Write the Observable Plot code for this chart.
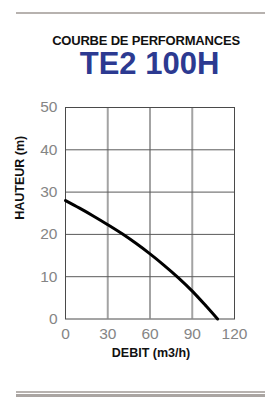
<!DOCTYPE html>
<html>
<head>
<meta charset="utf-8">
<script src="https://cdn.jsdelivr.net/npm/d3@7"></script>
<script src="https://cdn.jsdelivr.net/npm/@observablehq/plot@0.6"></script>
<style>
  html, body { margin: 0; padding: 0; background: #fff; }
  #wrap { position: relative; width: 265px; height: 397px; overflow: hidden; font-family: "Liberation Sans", Arial, sans-serif; }
  .bar { position: absolute; left: 16px; right: 0; background: #b7b2af; }
  #sup { position: absolute; left: 0; width: 292px; top: 33px; text-align: center; font-weight: bold; font-size: 13px; color: #111; letter-spacing: -0.2px; }
  #title { position: absolute; left: 0; width: 299px; top: 46px; text-align: center; font-weight: bold; font-size: 31px; color: #2c3a91; }
  #chart { position: absolute; left: 0; top: 0; }
</style>
</head>
<body>
<div id="wrap">
  <div class="bar" style="top:12px;height:2px"></div>
  <div id="sup">COURBE DE PERFORMANCES</div>
  <div id="title">TE2 100H</div>
  <div id="chart"></div>
  <div class="bar" style="top:391px;height:2px"></div>
  <div class="bar" style="top:394px;height:3px;background:#aaa5a2"></div>
</div>
<script>
const debit   = [0, 10, 20, 30, 40, 50, 60, 70, 80, 90, 100, 108];
const hauteur = [28, 26.2, 24.3, 22.3, 20.2, 17.9, 15.4, 12.7, 9.8, 6.6, 3.0, 0];
const xTicks = [0, 30, 60, 90, 120];
const yTicks = [0, 10, 20, 30, 40, 50];
const xLabel = "DEBIT (m3/h)";
const yLabel = "HAUTEUR (m)";

const pts = debit.map((d, i) => ({x: d, y: hauteur[i]}));

const chart = Plot.plot({
  width: 265,
  height: 397,
  marginTop: 107,
  marginBottom: 78.5,
  marginLeft: 65,
  marginRight: 31,
  style: {fontFamily: "Liberation Sans, Arial, sans-serif", background: "transparent"},
  x: {domain: [0, 120], ticks: xTicks},
  y: {domain: [0, 50], ticks: yTicks},
  marks: [
    Plot.ruleX(xTicks.slice(1, -1), {stroke: "#a3a3a3", strokeWidth: 2}),
    Plot.ruleY(yTicks.slice(1, -1), {stroke: "#5a5a5a", strokeWidth: 1}),
    Plot.frame({stroke: "#4a4a4a", strokeWidth: 1}),
    Plot.axisX({ticks: xTicks, tickSize: 0, tickPadding: 9, fontSize: 15.5, fill: "#858585", label: null}),
    Plot.axisY({ticks: yTicks, tickSize: 0, tickPadding: 8, fontSize: 15.5, fill: "#858585", label: null}),
    Plot.line(pts, {x: "x", y: "y", stroke: "#000", strokeWidth: 3, curve: "monotone-x"}),
    Plot.text([xLabel], {frameAnchor: "bottom", dy: 38, fontSize: 12.5, fontWeight: "bold", fill: "#111", dx: 1}),
    Plot.text([yLabel], {frameAnchor: "left", dx: -45.5, dy: 6.5, rotate: -90, fontSize: 12.5, fontWeight: "bold", fill: "#111"})
  ]
});
document.getElementById("chart").appendChild(chart);
</script>
</body>
</html>
